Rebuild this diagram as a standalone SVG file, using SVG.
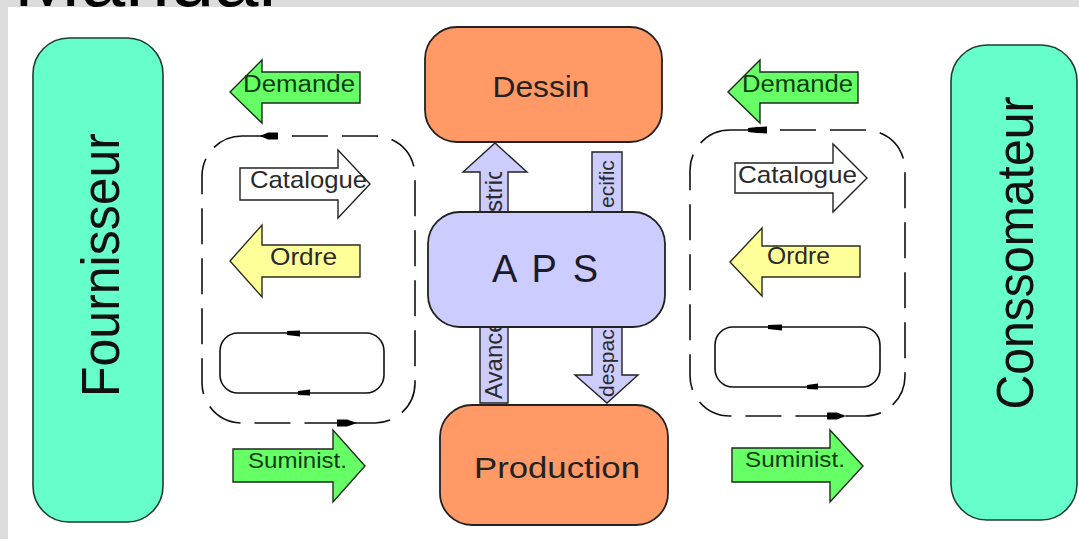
<svg xmlns="http://www.w3.org/2000/svg" width="1079" height="539" viewBox="0 0 1079 539">
  <defs>
    <style>
      .lbl { font-family: "Liberation Sans", Arial, sans-serif; }
      .actor { fill: #66ffcc; stroke: #1f3d33; stroke-width: 1.6; }
      .dept { fill: #ff9966; stroke: #222; stroke-width: 1.8; }
      .core { fill: #ccccff; stroke: #222; stroke-width: 1.8; }
      .green { fill: #66ff66; stroke: #1d2b1d; stroke-width: 1.4; }
      .yellow { fill: #ffff99; stroke: #2b2b1d; stroke-width: 1.4; }
      .white { fill: #ffffff; stroke: #222; stroke-width: 1.4; }
      .blue { fill: #ccccff; stroke: #222; stroke-width: 1.4; }
      .loop { fill: none; stroke: #111; stroke-width: 1.6; stroke-dasharray: 36 14; }
      .inner { fill: none; stroke: #111; stroke-width: 1.6; }
      .mark { fill: #000; }
      .t-green { fill: #0f3d0f; }
      .t-dark { fill: #2a2a2a; }
    </style>
    <clipPath id="clipUp"><rect x="478" y="172" width="32" height="232"/></clipPath>
    <clipPath id="clipDown"><rect x="570" y="160" width="72" height="242"/></clipPath>
    <clipPath id="clipTop"><rect x="0" y="0" width="1079" height="8"/></clipPath>
  </defs>

  <!-- page frame -->
  <rect x="0" y="0" width="1079" height="539" fill="#dcdcdc"/>
  <rect x="8" y="7" width="1071" height="532" fill="#ffffff"/>

  <!-- heading, mostly outside the frame -->
  <g id="title" clip-path="url(#clipTop)">
    <text class="lbl" x="14" y="6" font-size="80" fill="#000">Manual</text>
  </g>

  <!-- side actors -->
  <g id="fournisseur">
    <rect class="actor" x="33" y="38" width="130" height="484" rx="36"/>
    <text class="lbl" transform="translate(119,265) rotate(-90)" text-anchor="middle" font-size="54" textLength="264" lengthAdjust="spacingAndGlyphs" fill="#111">Fournisseur</text>
  </g>
  <g id="consommateur">
    <rect class="actor" x="951" y="45" width="126" height="475" rx="36"/>
    <text class="lbl" transform="translate(1033,253) rotate(-90)" text-anchor="middle" font-size="52" textLength="313" lengthAdjust="spacingAndGlyphs" fill="#111">Conssomateur</text>
  </g>

  <!-- central departments -->
  <g id="dessin">
    <rect class="dept" x="425" y="27" width="237" height="115" rx="32"/>
    <text class="lbl" x="541" y="97" text-anchor="middle" font-size="29" textLength="97" lengthAdjust="spacingAndGlyphs" fill="#222">Dessin</text>
  </g>
  <g id="production">
    <rect class="dept" x="440" y="405" width="228" height="120" rx="32"/>
    <text class="lbl" x="557" y="478" text-anchor="middle" font-size="29" textLength="166" lengthAdjust="spacingAndGlyphs" fill="#222">Production</text>
  </g>

  <!-- flows -->
  <g id="connectors">
    <!-- supplier side cycle -->
    <rect class="loop" x="202" y="136" width="213" height="287" rx="40"/>
    <path class="mark" d="M260,136 L268,132.5 L278,132.5 L278,139.5 L268,139.5 Z"/>
    <path class="mark" d="M337,419.5 L347,419.5 L357,423 L347,426.5 L337,426.5 Z"/>
    <rect class="inner" x="220" y="333" width="164" height="60" rx="18"/>
    <path class="mark" d="M287,331 L300,330.5 L300,336.5 L287,335 Z"/>
    <path class="mark" d="M298,391 L310,389.5 L310,395.5 L298,395 Z"/>

    <!-- consumer side cycle -->
    <rect class="loop" x="690" y="130" width="215" height="286" rx="40"/>
    <path class="mark" d="M748,128 L757,127 L767,126.5 L767,133.5 L757,133 L748,132 Z"/>
    <path class="mark" d="M827,412.5 L837,412.5 L846,416 L837,419.5 L827,419.5 Z"/>
    <rect class="inner" x="715" y="327" width="165" height="60" rx="18"/>
    <path class="mark" d="M768,325 L782,324.5 L782,330.5 L768,329 Z"/>
    <path class="mark" d="M807,385 L818,383.5 L818,389.5 L807,389 Z"/>

    <!-- supplier side messages -->
    <g id="demande-f">
      <path class="green" d="M230,92 L262,60 L262,72 L360,72 L360,103 L262,103 L262,123 Z"/>
      <text class="lbl t-green" x="243" y="92" font-size="23" textLength="112" lengthAdjust="spacingAndGlyphs">Demande</text>
    </g>
    <g id="catalogue-f">
      <path class="white" d="M240,168 L338,168 L338,150 L370,184 L338,218 L338,200 L240,200 Z"/>
      <text class="lbl t-dark" x="250" y="188" font-size="24" textLength="117" lengthAdjust="spacingAndGlyphs">Catalogue</text>
    </g>
    <g id="ordre-f">
      <path class="yellow" d="M230,261 L262,225 L262,245 L360,245 L360,277 L262,277 L262,297 Z"/>
      <text class="lbl t-dark" x="270" y="265" font-size="24" textLength="67" lengthAdjust="spacingAndGlyphs">Ordre</text>
    </g>
    <g id="suminist-f">
      <path class="green" d="M233,449 L333,449 L333,430 L365,466 L333,502 L333,482 L233,482 Z"/>
      <text class="lbl t-green" x="248" y="468" font-size="22" textLength="99" lengthAdjust="spacingAndGlyphs">Suminist.</text>
    </g>

    <!-- consumer side messages -->
    <g id="demande-c">
      <path class="green" d="M728,92 L760,60 L760,72 L858,72 L858,103 L760,103 L760,123 Z"/>
      <text class="lbl t-green" x="742" y="92" font-size="23" textLength="111" lengthAdjust="spacingAndGlyphs">Demande</text>
    </g>
    <g id="catalogue-c">
      <path class="white" d="M735,163 L833,163 L833,144 L867,178 L833,212 L833,193 L735,193 Z"/>
      <text class="lbl t-dark" x="738" y="183" font-size="24" textLength="119" lengthAdjust="spacingAndGlyphs">Catalogue</text>
    </g>
    <g id="ordre-c">
      <path class="yellow" d="M730,262 L762,228 L762,246 L860,246 L860,277 L762,277 L762,296 Z"/>
      <text class="lbl t-dark" x="767" y="264" font-size="24" textLength="63" lengthAdjust="spacingAndGlyphs">Ordre</text>
    </g>
    <g id="suminist-c">
      <path class="green" d="M732,448 L830,448 L830,430 L863,466 L830,502 L830,482 L732,482 Z"/>
      <text class="lbl t-green" x="745" y="467" font-size="22" textLength="100" lengthAdjust="spacingAndGlyphs">Suminist.</text>
    </g>

    <!-- APS exchanges with design and production -->
    <g id="avance">
      <path class="blue" d="M480,403 L480,172 L463,172 L495,143 L527,172 L508,172 L508,403 Z"/>
      <g clip-path="url(#clipUp)">
        <text class="lbl t-dark" transform="translate(494,399) rotate(-90)" y="8" font-size="24">Avance<tspan x="187">strictions</tspan></text>
      </g>
    </g>
    <g id="despacho">
      <path class="blue" d="M592,152 L622,152 L622,375 L638,375 L607,403 L575,375 L592,375 Z"/>
      <g clip-path="url(#clipDown)">
        <text class="lbl t-dark" transform="translate(607,397) rotate(-90)" y="7" font-size="21">despacho<tspan x="189">ecifico</tspan></text>
      </g>
    </g>
  </g>

  <g id="aps">
    <rect class="core" x="428" y="212" width="237" height="115" rx="32"/>
    <text class="lbl" x="545" y="282" text-anchor="middle" font-size="38" textLength="106" lengthAdjust="spacing" fill="#1a1a2a">A P S</text>
  </g>
</svg>
